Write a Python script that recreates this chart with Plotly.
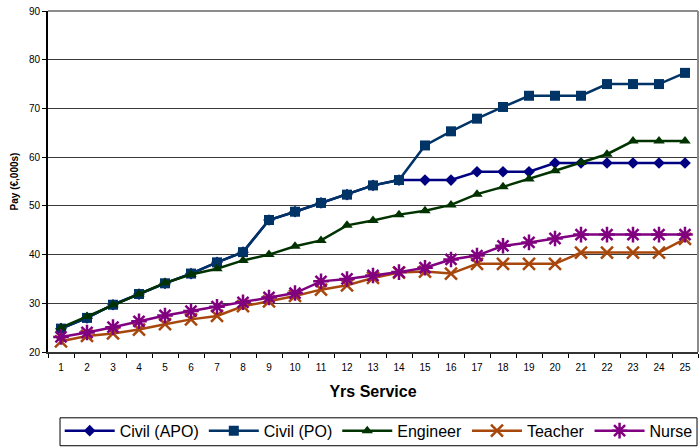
import plotly.graph_objects as go

# Years of service (category axis)
years = [str(y) for y in range(1, 26)]

# Pay in thousands of euro
civil_apo = [24.8, 27.0, 29.7, 31.9, 34.1, 36.1, 38.4, 40.5, 47.1, 48.8, 50.6, 52.3, 54.2, 55.3,
             55.3, 55.3, 57.0, 57.0, 57.0, 58.8, 58.8, 58.8, 58.8, 58.8, 58.8]
civil_po = [24.8, 27.0, 29.7, 31.9, 34.1, 36.1, 38.4, 40.5, 47.1, 48.8, 50.6, 52.3, 54.2, 55.3,
            62.4, 65.3, 67.9, 70.3, 72.6, 72.6, 72.6, 75.0, 75.0, 75.0, 77.3]
engineer = [25.0, 27.3, 29.7, 31.9, 34.2, 35.9, 37.1, 38.8, 40.0, 41.7, 42.9, 46.0, 47.0, 48.2,
            49.0, 50.2, 52.4, 53.9, 55.5, 57.2, 58.9, 60.6, 63.3, 63.3, 63.3]
teacher = [22.2, 23.3, 23.8, 24.6, 25.7, 26.7, 27.4, 29.4, 30.4, 31.5, 32.8, 33.7, 35.2, 36.3,
           36.5, 36.1, 38.1, 38.1, 38.1, 38.1, 40.4, 40.4, 40.4, 40.4, 43.2]
nurse = [23.1, 24.0, 25.1, 26.3, 27.5, 28.4, 29.3, 30.2, 31.2, 32.1, 34.5, 35.0, 35.7, 36.4,
         37.3, 39.0, 39.8, 41.8, 42.5, 43.3, 44.1, 44.1, 44.1, 44.1, 44.1]

series = [
    ("Civil (APO)", civil_apo, "#000080", "diamond", 9, 0),
    ("Civil (PO)", civil_po, "#003366", "square", 10, 0),
    ("Engineer", engineer, "#003300", "triangle-up", 10, 0),
    ("Teacher", teacher, "#A8470C", "x-thin-open", 12, 2.5),
    ("Nurse", nurse, "#800080", "asterisk-open", 13, 2.5),
]

FONT = "Liberation Sans, Arial, sans-serif"

fig = go.Figure()
for name, vals, color, symbol, size, mlw in series:
    fig.add_trace(go.Scatter(
        x=years, y=vals, name=name, mode="lines+markers",
        line=dict(color=color, width=2.5),
        marker=dict(symbol=symbol, size=size, color=color,
                    line=dict(color=color, width=mlw)),
    ))

# gray frame on the top and right of the plot area
fig.add_shape(type="line", xref="paper", yref="paper", x0=0, x1=1, y0=1, y1=1,
              line=dict(color="#8c8c8c", width=2))
fig.add_shape(type="line", xref="paper", yref="paper", x0=1, x1=1, y0=0, y1=1,
              line=dict(color="#8c8c8c", width=2))
# box around the legend row
fig.add_shape(type="rect", xref="paper", yref="paper",
              x0=0.0185, x1=0.9985, y0=-0.2749, y1=-0.193,
              line=dict(color="black", width=1), fillcolor="rgba(0,0,0,0)")

fig.update_layout(
    width=700, height=448,
    margin=dict(l=48, r=2, t=11, b=95),
    paper_bgcolor="white", plot_bgcolor="white",
    font=dict(family=FONT, color="black"),
    showlegend=True,
    legend=dict(
        orientation="h", x=0.018, xanchor="left", y=-0.277, yanchor="bottom",
        font=dict(family=FONT, size=16, color="black"),
        borderwidth=0, bgcolor="rgba(0,0,0,0)",
        traceorder="normal", itemwidth=50,
    ),
    xaxis=dict(
        type="category", tickson="boundaries", ticks="outside", ticklen=4,
        tickcolor="black", showline=True, linecolor="#333333", linewidth=2,
        showgrid=False, tickfont=dict(size=10), range=[-0.5, 24.5],
        ticklabelstandoff=5,
        title=dict(text="<b>Yrs Service</b>", font=dict(size=16), standoff=14),
    ),
    yaxis=dict(
        range=[20, 90], dtick=10, ticks="outside", ticklen=4, tickcolor="black",
        showline=True, linecolor="black", linewidth=2,
        showgrid=True, gridcolor="#3a3a3a", gridwidth=1,
        tickfont=dict(size=10),
        title=dict(text="<b>Pay (€,000s)</b>", font=dict(size=10), standoff=8),
    ),
)

fig.write_html("out.html")
